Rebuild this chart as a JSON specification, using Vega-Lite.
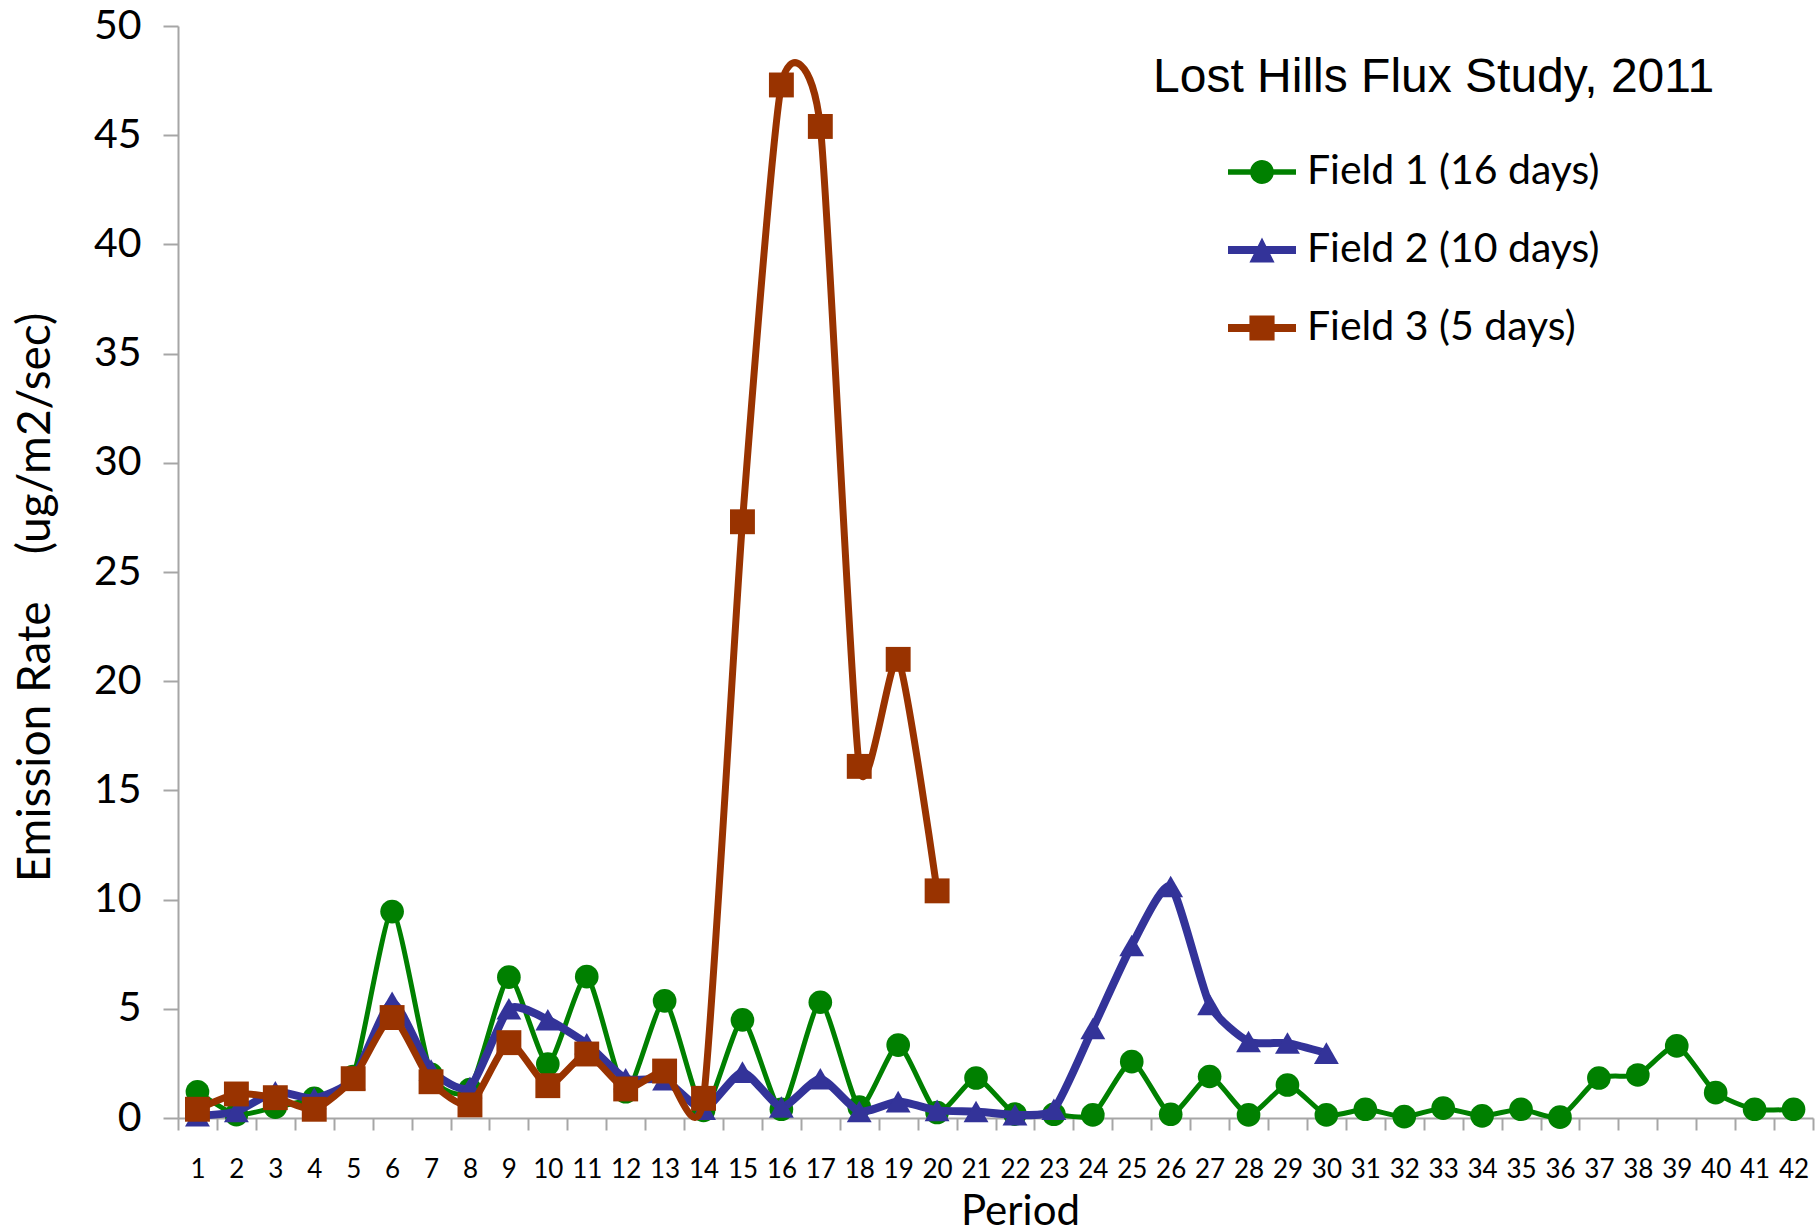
{
  "$schema": "https://vega.github.io/schema/vega-lite/v6.json",
  "width": 1635,
  "height": 1092,
  "autosize": {"type": "none"},
  "padding": {"left": 178, "top": 26, "right": 5, "bottom": 114},
  "background": "white",
  "config": {"view": {"stroke": null}, "font": "Lato"},
  "title": {"text": "Lost Hills Flux Study, 2011", "font": "Liberation Sans", "fontSize": 48, "fontWeight": "normal", "color": "black", "anchor": "start", "frame": "group", "orient": "top", "offset": 0, "baseline": "middle", "dx": 975, "dy": 121},
  "data": {"values": [
    {"Period": 1, "Field": "Field 1 (16 days)", "Rate": 1.2},
    {"Period": 2, "Field": "Field 1 (16 days)", "Rate": 0.15},
    {"Period": 3, "Field": "Field 1 (16 days)", "Rate": 0.5},
    {"Period": 4, "Field": "Field 1 (16 days)", "Rate": 0.9},
    {"Period": 5, "Field": "Field 1 (16 days)", "Rate": 1.9},
    {"Period": 6, "Field": "Field 1 (16 days)", "Rate": 9.45},
    {"Period": 7, "Field": "Field 1 (16 days)", "Rate": 2.0},
    {"Period": 8, "Field": "Field 1 (16 days)", "Rate": 1.3},
    {"Period": 9, "Field": "Field 1 (16 days)", "Rate": 6.45},
    {"Period": 10, "Field": "Field 1 (16 days)", "Rate": 2.47},
    {"Period": 11, "Field": "Field 1 (16 days)", "Rate": 6.47},
    {"Period": 12, "Field": "Field 1 (16 days)", "Rate": 1.2},
    {"Period": 13, "Field": "Field 1 (16 days)", "Rate": 5.36},
    {"Period": 14, "Field": "Field 1 (16 days)", "Rate": 0.35},
    {"Period": 15, "Field": "Field 1 (16 days)", "Rate": 4.49},
    {"Period": 16, "Field": "Field 1 (16 days)", "Rate": 0.4},
    {"Period": 17, "Field": "Field 1 (16 days)", "Rate": 5.3},
    {"Period": 18, "Field": "Field 1 (16 days)", "Rate": 0.5},
    {"Period": 19, "Field": "Field 1 (16 days)", "Rate": 3.34},
    {"Period": 20, "Field": "Field 1 (16 days)", "Rate": 0.25},
    {"Period": 21, "Field": "Field 1 (16 days)", "Rate": 1.83},
    {"Period": 22, "Field": "Field 1 (16 days)", "Rate": 0.18},
    {"Period": 23, "Field": "Field 1 (16 days)", "Rate": 0.17},
    {"Period": 24, "Field": "Field 1 (16 days)", "Rate": 0.14},
    {"Period": 25, "Field": "Field 1 (16 days)", "Rate": 2.58},
    {"Period": 26, "Field": "Field 1 (16 days)", "Rate": 0.17},
    {"Period": 27, "Field": "Field 1 (16 days)", "Rate": 1.9},
    {"Period": 28, "Field": "Field 1 (16 days)", "Rate": 0.14},
    {"Period": 29, "Field": "Field 1 (16 days)", "Rate": 1.51},
    {"Period": 30, "Field": "Field 1 (16 days)", "Rate": 0.14},
    {"Period": 31, "Field": "Field 1 (16 days)", "Rate": 0.4},
    {"Period": 32, "Field": "Field 1 (16 days)", "Rate": 0.06},
    {"Period": 33, "Field": "Field 1 (16 days)", "Rate": 0.45},
    {"Period": 34, "Field": "Field 1 (16 days)", "Rate": 0.1},
    {"Period": 35, "Field": "Field 1 (16 days)", "Rate": 0.4},
    {"Period": 36, "Field": "Field 1 (16 days)", "Rate": 0.04},
    {"Period": 37, "Field": "Field 1 (16 days)", "Rate": 1.83},
    {"Period": 38, "Field": "Field 1 (16 days)", "Rate": 1.97},
    {"Period": 39, "Field": "Field 1 (16 days)", "Rate": 3.3},
    {"Period": 40, "Field": "Field 1 (16 days)", "Rate": 1.16},
    {"Period": 41, "Field": "Field 1 (16 days)", "Rate": 0.4},
    {"Period": 42, "Field": "Field 1 (16 days)", "Rate": 0.4},
    {"Period": 1, "Field": "Field 2 (10 days)", "Rate": 0.1},
    {"Period": 2, "Field": "Field 2 (10 days)", "Rate": 0.3},
    {"Period": 3, "Field": "Field 2 (10 days)", "Rate": 1.2},
    {"Period": 4, "Field": "Field 2 (10 days)", "Rate": 0.9},
    {"Period": 5, "Field": "Field 2 (10 days)", "Rate": 1.8},
    {"Period": 6, "Field": "Field 2 (10 days)", "Rate": 5.3},
    {"Period": 7, "Field": "Field 2 (10 days)", "Rate": 2.2},
    {"Period": 8, "Field": "Field 2 (10 days)", "Rate": 1.4},
    {"Period": 9, "Field": "Field 2 (10 days)", "Rate": 5.0},
    {"Period": 10, "Field": "Field 2 (10 days)", "Rate": 4.5},
    {"Period": 11, "Field": "Field 2 (10 days)", "Rate": 3.4},
    {"Period": 12, "Field": "Field 2 (10 days)", "Rate": 1.8},
    {"Period": 13, "Field": "Field 2 (10 days)", "Rate": 1.75},
    {"Period": 14, "Field": "Field 2 (10 days)", "Rate": 0.4},
    {"Period": 15, "Field": "Field 2 (10 days)", "Rate": 2.1},
    {"Period": 16, "Field": "Field 2 (10 days)", "Rate": 0.5},
    {"Period": 17, "Field": "Field 2 (10 days)", "Rate": 1.8},
    {"Period": 18, "Field": "Field 2 (10 days)", "Rate": 0.3},
    {"Period": 19, "Field": "Field 2 (10 days)", "Rate": 0.75},
    {"Period": 20, "Field": "Field 2 (10 days)", "Rate": 0.35},
    {"Period": 21, "Field": "Field 2 (10 days)", "Rate": 0.3},
    {"Period": 22, "Field": "Field 2 (10 days)", "Rate": 0.15},
    {"Period": 23, "Field": "Field 2 (10 days)", "Rate": 0.4},
    {"Period": 24, "Field": "Field 2 (10 days)", "Rate": 4.1},
    {"Period": 25, "Field": "Field 2 (10 days)", "Rate": 7.9},
    {"Period": 26, "Field": "Field 2 (10 days)", "Rate": 10.6},
    {"Period": 27, "Field": "Field 2 (10 days)", "Rate": 5.2},
    {"Period": 28, "Field": "Field 2 (10 days)", "Rate": 3.5},
    {"Period": 29, "Field": "Field 2 (10 days)", "Rate": 3.43},
    {"Period": 30, "Field": "Field 2 (10 days)", "Rate": 2.97},
    {"Period": 1, "Field": "Field 3 (5 days)", "Rate": 0.4},
    {"Period": 2, "Field": "Field 3 (5 days)", "Rate": 1.1},
    {"Period": 3, "Field": "Field 3 (5 days)", "Rate": 0.93},
    {"Period": 4, "Field": "Field 3 (5 days)", "Rate": 0.4},
    {"Period": 5, "Field": "Field 3 (5 days)", "Rate": 1.8},
    {"Period": 6, "Field": "Field 3 (5 days)", "Rate": 4.6},
    {"Period": 7, "Field": "Field 3 (5 days)", "Rate": 1.66},
    {"Period": 8, "Field": "Field 3 (5 days)", "Rate": 0.6},
    {"Period": 9, "Field": "Field 3 (5 days)", "Rate": 3.45},
    {"Period": 10, "Field": "Field 3 (5 days)", "Rate": 1.48},
    {"Period": 11, "Field": "Field 3 (5 days)", "Rate": 2.93},
    {"Period": 12, "Field": "Field 3 (5 days)", "Rate": 1.33},
    {"Period": 13, "Field": "Field 3 (5 days)", "Rate": 2.15},
    {"Period": 14, "Field": "Field 3 (5 days)", "Rate": 0.9},
    {"Period": 15, "Field": "Field 3 (5 days)", "Rate": 27.3},
    {"Period": 16, "Field": "Field 3 (5 days)", "Rate": 47.3},
    {"Period": 17, "Field": "Field 3 (5 days)", "Rate": 45.4},
    {"Period": 18, "Field": "Field 3 (5 days)", "Rate": 16.1},
    {"Period": 19, "Field": "Field 3 (5 days)", "Rate": 21.0},
    {"Period": 20, "Field": "Field 3 (5 days)", "Rate": 10.4}
  ]},
  "encoding": {
    "x": {
      "field": "Period", "type": "ordinal",
      "scale": {"type": "band", "paddingInner": 0, "paddingOuter": 0, "domain": [1,2,3,4,5,6,7,8,9,10,11,12,13,14,15,16,17,18,19,20,21,22,23,24,25,26,27,28,29,30,31,32,33,34,35,36,37,38,39,40,41,42]},
      "axis": {"title": "Period", "labelAngle": 0, "tickBand": "extent", "grid": false, "domainColor": "#a6a6a6", "domainWidth": 2, "tickColor": "#a6a6a6", "tickWidth": 2, "tickSize": 12, "labelFont": "Lato", "labelFontSize": 26, "labelPadding": 26, "labelColor": "black", "titleFont": "Lato", "titleFontSize": 42, "titleFontWeight": "normal", "titleColor": "black", "titleX": 842, "titleY": 106, "titleBaseline": "alphabetic"}
    },
    "y": {
      "field": "Rate", "type": "quantitative",
      "scale": {"domain": [0, 50], "nice": false},
      "axis": {"title": "Emission Rate\u00a0\u00a0\u00a0\u00a0(ug/m2/sec)", "values": [0,5,10,15,20,25,30,35,40,45,50], "grid": false, "domainColor": "#a6a6a6", "domainWidth": 2, "tickColor": "#a6a6a6", "tickWidth": 2, "tickSize": 15, "labelFont": "Lato", "labelFontSize": 41, "labelPadding": 22, "labelColor": "black", "titleFont": "Lato", "titleFontSize": 46, "titleFontWeight": "normal", "titleColor": "black", "titleX": -143, "titleY": 571, "titleAngle": -90, "titleBaseline": "middle", "titleAlign": "center"}
    },
    "color": {
      "field": "Field", "type": "nominal",
      "scale": {"domain": ["Field 1 (16 days)", "Field 2 (10 days)", "Field 3 (5 days)"], "range": ["#008000", "#333399", "#993300"]},
      "legend": {
        "title": null, "orient": "none", "legendX": 1050, "legendY": 112, "direction": "vertical",
        "symbolSize": 4624, "symbolStrokeWidth": 0, "labelFont": "Lato", "labelFontSize": 41, "labelColor": "black", "labelOffset": 11, "rowPadding": 24, "labelLimit": 600,
        "encode": {"symbols": {"update": {
          "shape": {"signal": "datum.label == 'Field 1 (16 days)' ? 'M-1,-0.083H1V0.083H-1Z M0.35,0A0.35,0.35,0,1,1,-0.35,0A0.35,0.35,0,1,1,0.35,0Z' : datum.label == 'Field 2 (10 days)' ? 'M-1,-0.12H1V0.12H-1Z M0,-0.37L0.37,0.37L-0.37,0.37Z' : 'M-1,-0.12H1V0.12H-1Z M-0.37,-0.37H0.37V0.37H-0.37Z'"},
          "fill": {"signal": "scale('color', datum.value)"},
          "stroke": {"value": "transparent"},
          "strokeWidth": {"value": 0},
          "opacity": {"value": 1}
        }}}
      }
    }
  },
  "layer": [
    {"transform": [{"filter": "datum.Field === 'Field 1 (16 days)'"}],
     "mark": {"type": "line", "interpolate": "cardinal", "tension": 0.4, "strokeWidth": 5, "point": {"filled": true, "shape": "circle", "size": 560, "opacity": 1}}},
    {"transform": [{"filter": "datum.Field === 'Field 2 (10 days)'"}],
     "mark": {"type": "line", "interpolate": "cardinal", "tension": 0.4, "strokeWidth": 8, "point": {"filled": true, "shape": "triangle-up", "size": 620, "opacity": 1}}},
    {"transform": [{"filter": "datum.Field === 'Field 3 (5 days)'"}],
     "mark": {"type": "line", "interpolate": "cardinal", "tension": 0.4, "strokeWidth": 7, "point": {"filled": true, "shape": "square", "size": 620, "opacity": 1}}}
  ]
}
